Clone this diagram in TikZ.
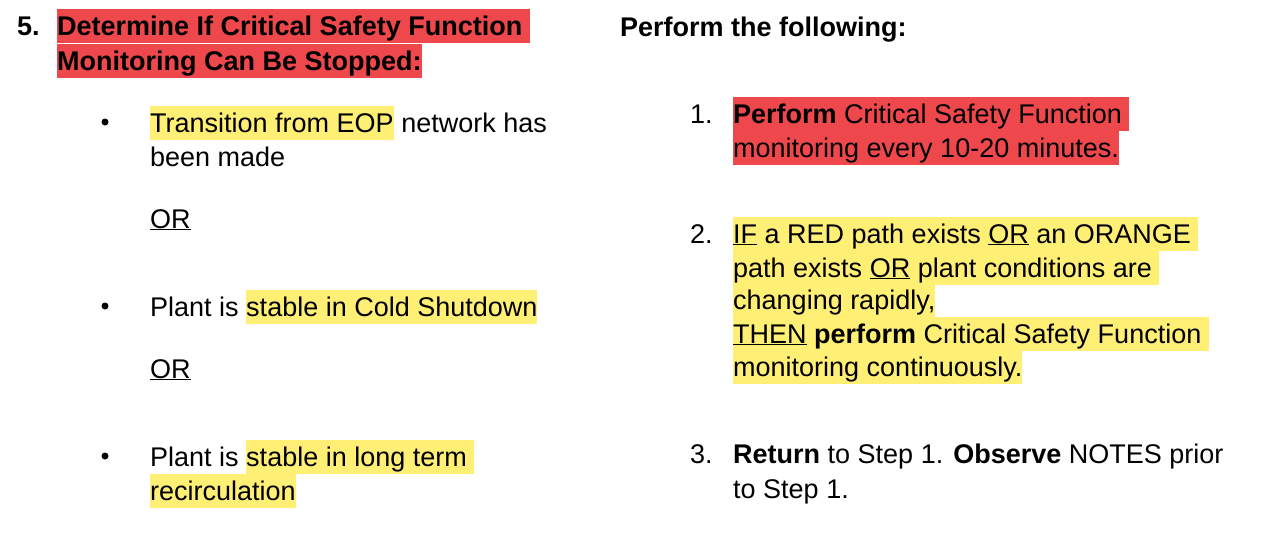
\documentclass[tikz,border=0pt]{standalone}
\usepackage{fontspec}
\setmainfont{Liberation Sans}
\usepackage{xcolor}
\definecolor{hlred}{RGB}{239,72,76}
\definecolor{hlyellow}{RGB}{255,240,117}
\newcommand{\hlbox}[2]{{\setlength\fboxsep{0pt}\colorbox{#1}{\rule[-8pt]{0pt}{34pt}#2}}}
\newcommand{\hy}[1]{\hlbox{hlyellow}{#1}}
\newcommand{\hr}[1]{\hlbox{hlred}{#1}}
\tikzset{
    % one text line, placed by its baseline
    txtline/.style={anchor=base west, inner sep=0pt, font=\fontsize{27}{34}\selectfont},
    bulletdot/.style={circle, fill=black, inner sep=0pt, minimum size=7pt}
}
\begin{document}
\begin{tikzpicture}[x=1pt,y=-1pt]
\useasboundingbox (0,0) rectangle (1273,533);

% Left column: step heading
\node[txtline] (stepno) at (17,35) {\textbf{5.}};
\node[txtline] (head1) at (57,35) {\hr{\textbf{Determine If Critical Safety Function }}};
\node[txtline] (head2) at (57,70) {\hr{\textbf{Monitoring Can Be Stopped:}}};

% Left column: conditions
\node[bulletdot] (dot1) at (105,122) {};
\node[txtline] (cond1a) at (150,132) {\hy{Transition from EOP} network has};
\node[txtline] (cond1b) at (150,166) {been made};
\node[txtline] (or1) at (150,228) {\underline{OR}};
\node[bulletdot] (dot2) at (105,306) {};
\node[txtline] (cond2) at (150,316) {Plant is \hy{stable in Cold Shutdown}};
\node[txtline] (or2) at (150,378) {\underline{OR}};
\node[bulletdot] (dot3) at (105,456) {};
\node[txtline] (cond3a) at (150,466) {Plant is \hy{stable in long term }};
\node[txtline] (cond3b) at (150,500) {\hy{recirculation}};

% Right column: actions
\node[txtline] (acthead) at (620,36) {\textbf{Perform the following:}};
\node[txtline] (num1) at (690,123) {1.};
\node[txtline] (act1a) at (733,123) {\hr{\textbf{Perform} Critical Safety Function }};
\node[txtline] (act1b) at (733,157) {\hr{monitoring every 10-20 minutes.}};
\node[txtline] (num2) at (690,243) {2.};
\node[txtline] (act2a) at (733,243) {\hy{\underline{IF} a RED path exists \underline{OR} an ORANGE }};
\node[txtline] (act2b) at (733,277) {\hy{path exists \underline{OR} plant conditions are }};
\node[txtline] (act2c) at (733,309) {\hy{changing rapidly,}};
\node[txtline] (act2d) at (733,343) {\hy{\underline{THEN} \textbf{perform} Critical Safety Function }};
\node[txtline] (act2e) at (733,376) {\hy{monitoring continuously.}};
\node[txtline] (num3) at (690,463) {3.};
\node[txtline] (act3a) at (733,463) {\textbf{Return} to Step 1. \textbf{Observe} NOTES prior};
\node[txtline] (act3b) at (733,498) {to Step 1.};
\end{tikzpicture}
\end{document}
